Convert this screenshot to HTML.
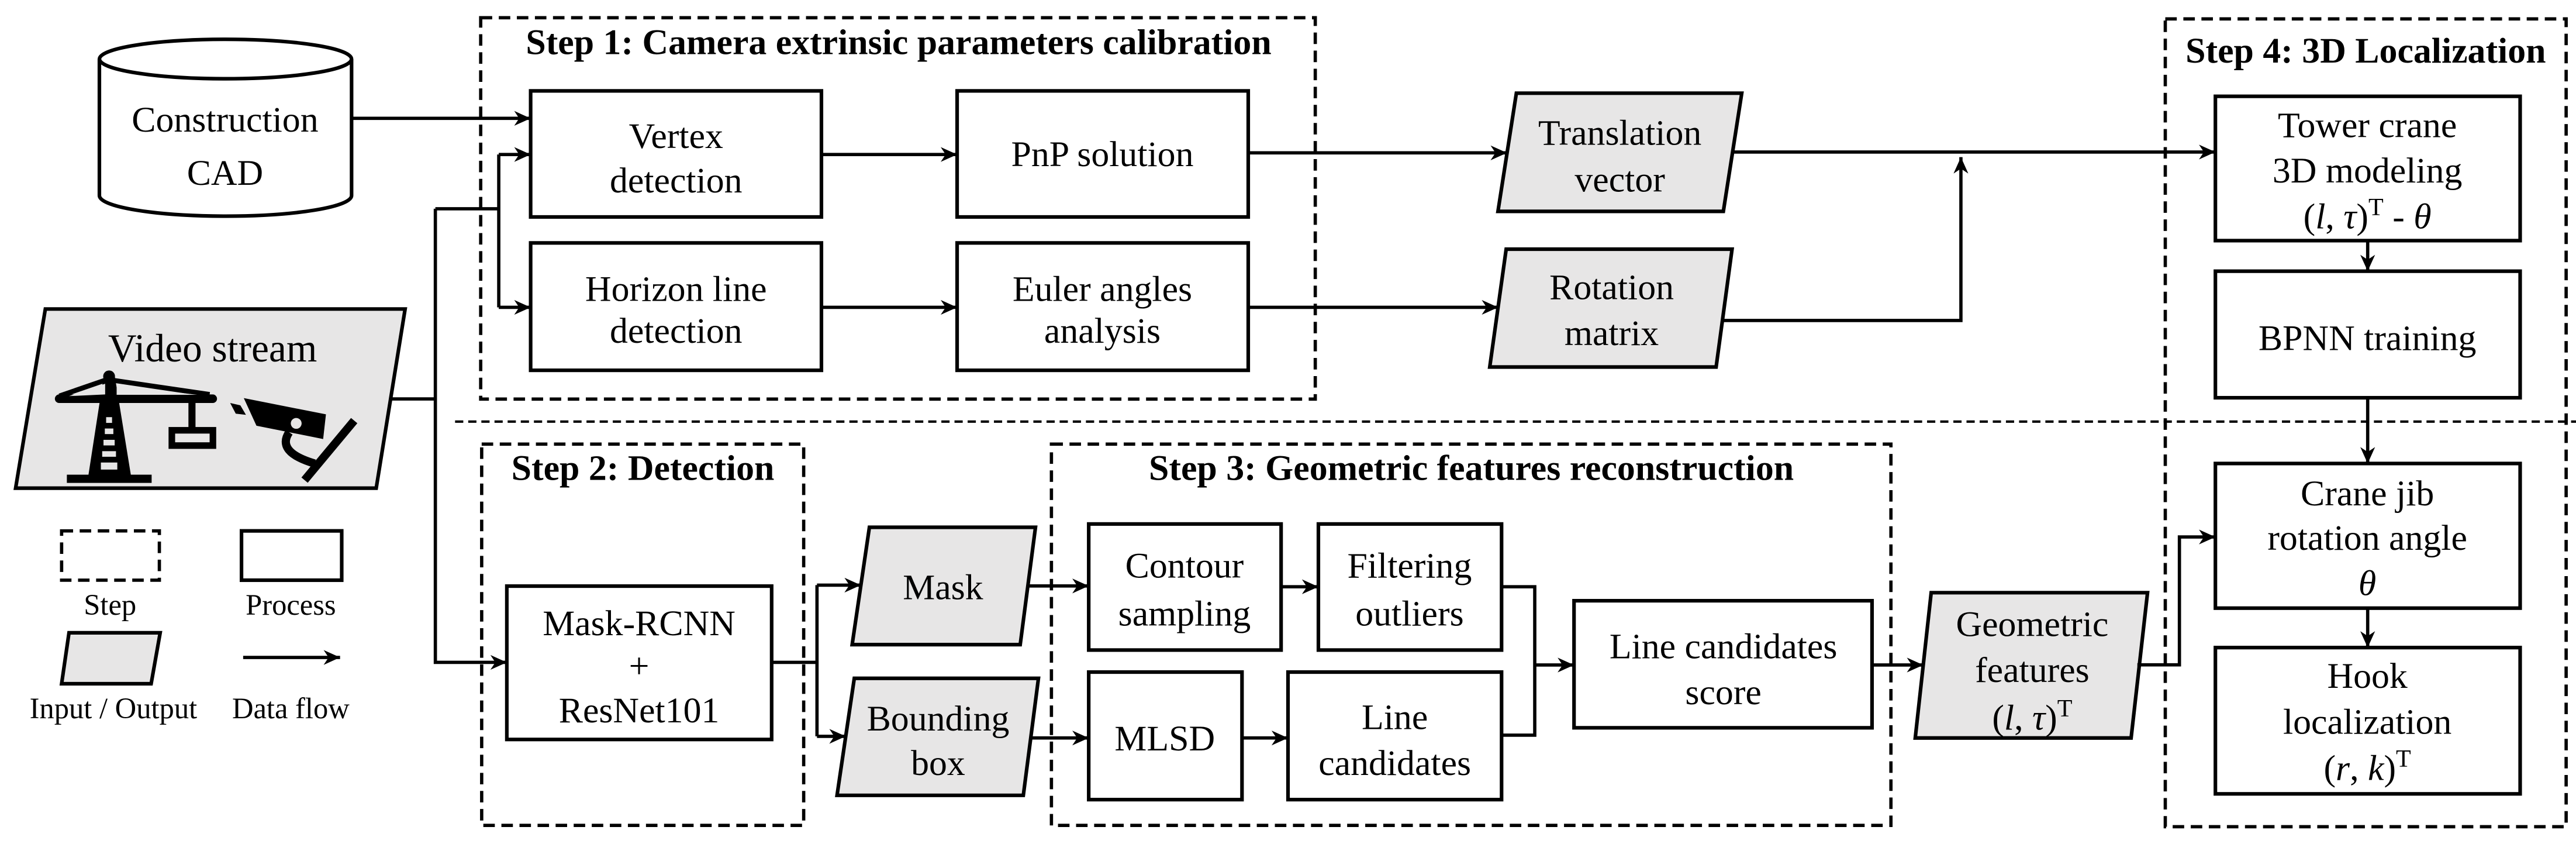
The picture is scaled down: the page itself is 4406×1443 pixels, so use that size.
<!DOCTYPE html>
<html><head><meta charset="utf-8"><style>
html,body{margin:0;padding:0;background:#fff;}
svg{display:block;}
text{font-family:"Liberation Serif","DejaVu Serif",serif;fill:#000;}
</style></head><body>
<svg width="4406" height="1443" viewBox="0 0 1568 513.5" preserveAspectRatio="none" xmlns="http://www.w3.org/2000/svg">
<defs>
<marker id="a" markerUnits="userSpaceOnUse" markerWidth="12" markerHeight="10" refX="10" refY="4.5" orient="auto">
<path d="M0,0 L10,4.5 L0,9 L3,4.5 z" fill="#000"/>
</marker>
</defs>
<g fill="none" stroke="#000">
<!-- divider -->
<line x1="277" y1="256.5" x2="1568" y2="256.5" stroke-width="1.5" stroke-dasharray="5 3"/>
<!-- step boxes -->
<g stroke-width="2" stroke-dasharray="7 4">
<rect x="292.6" y="10.8" width="508" height="232"/>
<rect x="1318" y="11.5" width="244" height="491.5"/>
<rect x="293.2" y="270.2" width="196" height="232"/>
<rect x="640" y="270.2" width="511" height="232"/>
<rect x="37.5" y="323" width="59.5" height="30"/>
</g>
<g stroke-width="2.2" fill="#fff">
<rect x="323" y="55.3" width="177" height="76.7"/>
<rect x="582.6" y="55.3" width="177.2" height="76.7"/>
<rect x="323" y="147.8" width="177" height="77.5"/>
<rect x="582.6" y="147.8" width="177.2" height="77.5"/>
<rect x="1348.5" y="58.6" width="185.5" height="87.8"/>
<rect x="1348.5" y="165" width="185.5" height="77"/>
<rect x="1348.5" y="282" width="185.5" height="88"/>
<rect x="1348.5" y="394" width="185.5" height="89"/>
<rect x="308.5" y="356.6" width="161.2" height="93.3"/>
<rect x="662.7" y="318.8" width="117.1" height="76.7"/>
<rect x="802.5" y="318.8" width="111.5" height="76.7"/>
<rect x="662.7" y="408.9" width="93.3" height="77.6"/>
<rect x="784" y="408.9" width="130" height="77.6"/>
<rect x="958.1" y="365.5" width="181.4" height="77.3"/>
<rect x="147" y="323" width="61" height="30"/>
</g>
<g stroke-width="2.2" fill="#e7e6e6">
<polygon points="923,56.7 1060.2,56.7 1049,128.6 911.8,128.6"/>
<polygon points="916.8,151.6 1054.3,151.6 1044.6,223.3 906.8,223.3"/>
<polygon points="529.2,320.8 630.3,320.8 621,392.2 518.7,392.2"/>
<polygon points="520,412.7 632.1,412.7 622.9,483.9 509.5,483.9"/>
<polygon points="1175.5,360.6 1307.2,360.6 1297.2,449 1165.8,449"/>
<polygon points="27.6,188 246.6,188 229,297 9.5,297"/>
<polygon points="42,385 97.5,385 92,416 37.5,416"/>
</g>
<!-- cylinder -->
<path d="M60.5,35.9 L60.5,119 A76.7,12.5 0 0 0 214,119 L214,35.9" stroke-width="2.2" fill="#fff"/>
<ellipse cx="137.25" cy="35.9" rx="76.7" ry="12" stroke-width="2.2" fill="#fff"/>
<!-- connectors -->
<g stroke-width="2">
<line x1="214" y1="72" x2="323" y2="72" marker-end="url(#a)"/>
<polyline points="238,242.7 265,242.7"/>
<polyline points="265,127 265,403 308.5,403" marker-end="url(#a)"/>
<polyline points="265,127 303.6,127"/>
<line x1="303.6" y1="94" x2="303.6" y2="187"/>
<line x1="303.6" y1="94" x2="323" y2="94" marker-end="url(#a)"/>
<line x1="303.6" y1="187" x2="323" y2="187" marker-end="url(#a)"/>
<line x1="500" y1="94" x2="582.6" y2="94" marker-end="url(#a)"/>
<line x1="500" y1="187" x2="582.6" y2="187" marker-end="url(#a)"/>
<line x1="759.8" y1="93" x2="917.3" y2="93" marker-end="url(#a)"/>
<line x1="759.8" y1="187" x2="911.9" y2="187" marker-end="url(#a)"/>
<line x1="1054.6" y1="92.5" x2="1348.5" y2="92.5" marker-end="url(#a)"/>
<polyline points="1048.4,195 1193.6,195 1193.6,95.6" marker-end="url(#a)"/>
<line x1="1441.2" y1="146.4" x2="1441.2" y2="165" marker-end="url(#a)"/>
<line x1="1441.2" y1="242" x2="1441.2" y2="282" marker-end="url(#a)"/>
<line x1="1441.2" y1="370" x2="1441.2" y2="394" marker-end="url(#a)"/>
<polyline points="1301,404.5 1326.6,404.5 1326.6,326.7 1348.5,326.7" marker-end="url(#a)"/>
<line x1="469.7" y1="403" x2="497.3" y2="403"/>
<line x1="497.3" y1="356" x2="497.3" y2="448"/>
<line x1="497.3" y1="356" x2="524" y2="356" marker-end="url(#a)"/>
<line x1="497.3" y1="448" x2="514.8" y2="448" marker-end="url(#a)"/>
<line x1="625.7" y1="356.5" x2="662.7" y2="356.5" marker-end="url(#a)"/>
<line x1="627.4" y1="449" x2="662.7" y2="449" marker-end="url(#a)"/>
<line x1="779.8" y1="357" x2="802.5" y2="357" marker-end="url(#a)"/>
<line x1="756" y1="449" x2="784" y2="449" marker-end="url(#a)"/>
<polyline points="914,357 934.2,357 934.2,447.3 914,447.3"/>
<line x1="934.2" y1="404.6" x2="958.1" y2="404.6" marker-end="url(#a)"/>
<line x1="1139.5" y1="404.6" x2="1170.7" y2="404.6" marker-end="url(#a)"/>
<line x1="148" y1="400" x2="207" y2="400" marker-end="url(#a)"/>
</g>
</g>
<!-- crane icon -->
<g fill="#000">
<polygon points="63,229.6 70,229.6 79.7,289.2 53.8,289.2"/>
<circle cx="66.4" cy="229" r="3.6"/>
<rect x="40.7" y="288.8" width="51.6" height="5"/>
<line x1="36" y1="242.6" x2="129.5" y2="242.6" stroke="#000" stroke-width="5.2" stroke-linecap="round"/>
<line x1="66.4" y1="230.5" x2="36.2" y2="240.9" stroke="#000" stroke-width="3"/>
<line x1="69" y1="231.4" x2="127.6" y2="240" stroke="#000" stroke-width="3"/>
<rect x="114.7" y="243.5" width="4.3" height="16.5"/>
<rect x="104.6" y="261.8" width="25" height="9.3" fill="none" stroke="#000" stroke-width="4"/>
<g fill="#e7e6e6">
<rect x="64.6" y="253.8" width="3.6" height="3.5"/>
<rect x="63.8" y="260.7" width="5.2" height="3.4"/>
<rect x="63" y="267.6" width="6.8" height="3.4"/>
<rect x="62.2" y="274.5" width="8.4" height="3.4"/>
<rect x="61.4" y="281.4" width="10" height="4.3"/>
<polygon points="42,241 64,233.5 64,240" />
<polygon points="71,234.5 120,240.2 71,240.2" />
</g>
<polygon points="148.4,242.2 198.4,252.1 196.7,267.1 156.1,259"/>
<polygon points="140.1,245.2 146.3,246.6 149.7,252.4 143.5,251.7"/>
<circle cx="180.3" cy="257.6" r="3.3" fill="#e7e6e6"/>
<path d="M176,263 Q168,275 191.5,282" fill="none" stroke="#000" stroke-width="5"/>
<line x1="215.6" y1="255.9" x2="185.4" y2="292.1" stroke="#000" stroke-width="5"/>
</g>
<!-- titles -->
<g font-weight="bold" font-size="22" text-anchor="middle">
<text x="547" y="33">Step 1: Camera extrinsic parameters calibration</text>
<text x="1440" y="38">Step 4: 3D Localization</text>
<text x="391.3" y="292">Step 2: Detection</text>
<text x="895.6" y="292">Step 3: Geometric features reconstruction</text>
</g>
<g font-size="22" text-anchor="middle">
<text x="137" y="80">Construction</text><text x="137" y="112.5">CAD</text>
<text x="129.4" y="220" font-size="24">Video stream</text>
<text x="411.5" y="90">Vertex</text><text x="411.5" y="117">detection</text>
<text x="671" y="101">PnP solution</text>
<text x="411.5" y="183">Horizon line</text><text x="411.5" y="208.5">detection</text>
<text x="671" y="183">Euler angles</text><text x="671" y="208.5">analysis</text>
<text x="986" y="88">Translation</text><text x="986" y="116.5">vector</text>
<text x="981" y="182">Rotation</text><text x="981" y="210">matrix</text>
<text x="1441" y="83.5">Tower crane</text><text x="1441" y="111">3D modeling</text>
<text x="1441" y="139">(<tspan font-style="italic">l</tspan>, <tspan font-style="italic">τ</tspan>)<tspan dy="-8" font-size="15">T</tspan><tspan dy="8"> - </tspan><tspan font-style="italic">θ</tspan></text>
<text x="1441" y="213">BPNN training</text>
<text x="1441" y="307.5">Crane jib</text><text x="1441" y="334.5">rotation angle</text>
<text x="1441" y="362" font-style="italic">θ</text>
<text x="1441" y="418.5">Hook</text><text x="1441" y="446.5">localization</text>
<text x="1441" y="474.5">(<tspan font-style="italic">r</tspan>, <tspan font-style="italic">k</tspan>)<tspan dy="-8" font-size="15">T</tspan></text>
<text x="389" y="386.5">Mask-RCNN</text><text x="389" y="412.5">+</text><text x="389" y="439.5">ResNet101</text>
<text x="574" y="364.5">Mask</text>
<text x="571" y="444.5">Bounding</text><text x="571" y="471.5">box</text>
<text x="721" y="351.5">Contour</text><text x="721" y="380.5">sampling</text>
<text x="858" y="351.5">Filtering</text><text x="858" y="380.5">outliers</text>
<text x="709" y="456.5">MLSD</text>
<text x="849" y="443.5">Line</text><text x="849" y="471.5">candidates</text>
<text x="1049" y="400.5">Line candidates</text><text x="1049" y="428.5">score</text>
<text x="1237" y="387">Geometric</text><text x="1237" y="415">features</text>
<text x="1237" y="444">(<tspan font-style="italic">l</tspan>, <tspan font-style="italic">τ</tspan>)<tspan dy="-8" font-size="15">T</tspan></text>
</g>
<g font-size="18" text-anchor="middle">
<text x="67" y="374">Step</text>
<text x="177" y="374">Process</text>
<text x="69" y="437">Input / Output</text>
<text x="177" y="437">Data flow</text>
</g>
</svg>
</body></html>
